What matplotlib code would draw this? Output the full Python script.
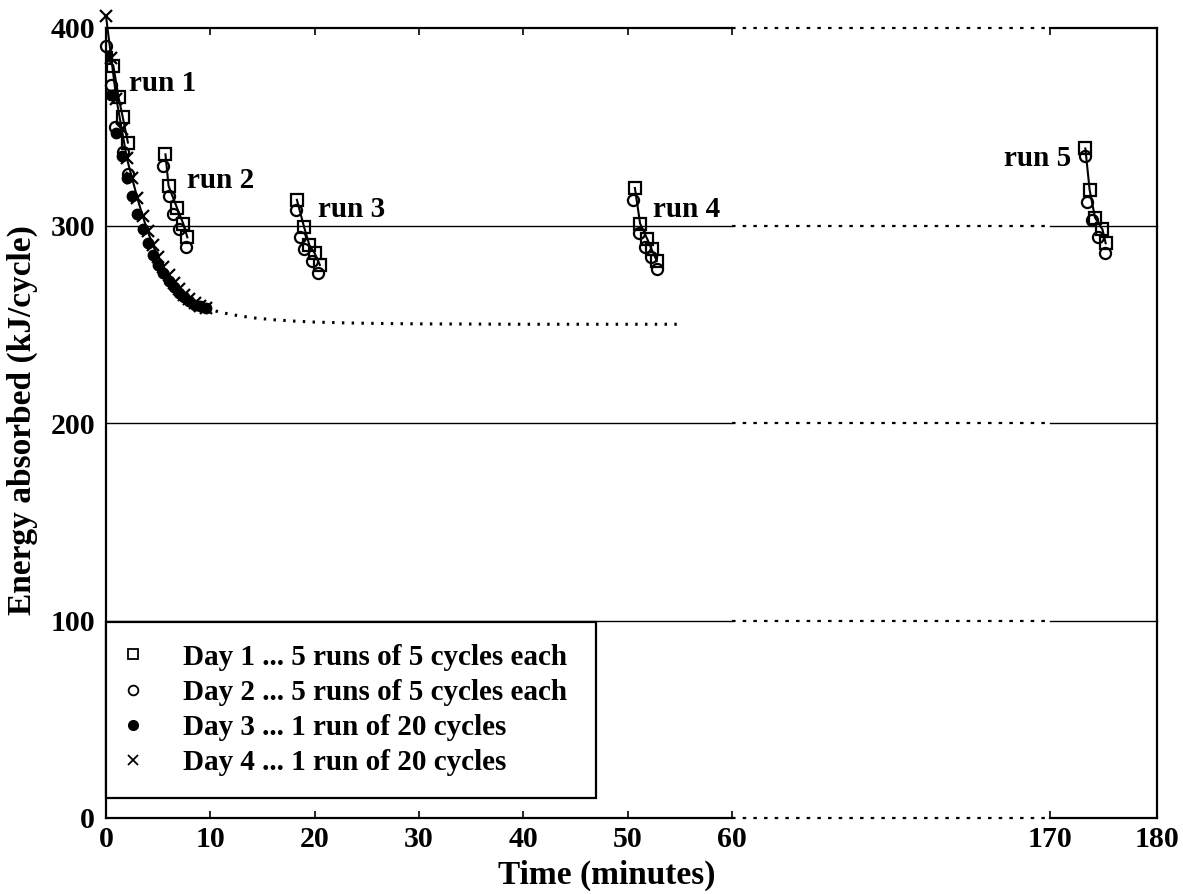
import numpy as np
import matplotlib
matplotlib.use("Agg")
import matplotlib.pyplot as plt
from matplotlib.lines import Line2D

plt.rcParams['font.family'] = ['Liberation Serif', 'DejaVu Serif']
plt.rcParams['font.weight'] = 'bold'

# ---- data ----
day1_runs_t = [
    [0.0, 0.7, 1.2, 1.6, 2.1],
    [5.7, 6.0, 6.8, 7.4, 7.8],
    [18.3, 19.0, 19.5, 20.0, 20.5],
    [50.7, 51.2, 51.9, 52.3, 52.8],
    [173.3, 173.7, 174.2, 174.9, 175.2],
]
day1_runs_E = [
    [385, 381, 365, 355, 342],
    [336, 320, 309, 301, 294],
    [313, 299, 290, 286, 280],
    [319, 301, 293, 288, 282],
    [339, 318, 304, 298, 291],
]
day2_runs_t = [
    [0.0, 0.5, 0.9, 1.6, 2.1],
    [5.5, 6.0, 6.4, 7.0, 7.7],
    [18.2, 18.6, 19.0, 19.7, 20.3],
    [50.5, 51.1, 51.7, 52.2, 52.8],
    [173.3, 173.5, 173.9, 174.5, 175.1],
]
day2_runs_E = [
    [391, 371, 350, 337, 326],
    [330, 315, 306, 298, 289],
    [308, 294, 288, 282, 276],
    [313, 296, 289, 284, 278],
    [335, 312, 303, 294, 286],
]
day3_t = [0.0, 0.5, 1.0, 1.5, 2.0, 2.5, 3.0, 3.5, 4.0, 4.5,
          5.0, 5.5, 6.0, 6.5, 7.0, 7.5, 8.0, 8.5, 9.0, 9.6]
day3_E = [386, 366, 347, 335, 324, 315, 306, 298, 291, 285,
          280, 276, 272, 269, 266, 264, 262, 260, 259, 258]
day4_t = [0.0, 0.5, 1.0, 1.5, 2.0, 2.5, 3.0, 3.5, 4.0, 4.5,
          5.0, 5.5, 6.0, 6.5, 7.0, 7.5, 8.0, 8.5, 9.0, 9.6]
day4_E = [406, 385, 364, 349, 334, 324, 314, 305, 297, 290,
          284, 279, 275, 271, 268, 265, 263, 261, 259, 258]
fit_t = [9.6, 11, 12.5, 14, 16, 18, 20, 23, 26, 30, 35, 40, 45, 50, 55]
fit_E = [258, 256, 254.5, 253.3, 252.3, 251.6, 251.1, 250.7, 250.4, 250.2,
         250.1, 250.0, 250.0, 250.0, 250.0]

labels = ["Day 1 ... 5 runs of 5 cycles each",
          "Day 2 ... 5 runs of 5 cycles each",
          "Day 3 ... 1 run of 20 cycles",
          "Day 4 ... 1 run of 20 cycles"]
run_names = ["run 1", "run 2", "run 3", "run 4", "run 5"]
xticks = [0, 10, 20, 30, 40, 50, 60, 170, 180]
yticks = [0, 100, 200, 300, 400]

# ---- broken axis scale ----
GAP = 30.5
RSC = 1.025

def fwd(x):
    x = np.asarray(x, dtype=float)
    return np.where(x <= 60, x,
                    np.where(x < 170, 60 + (x - 60) * GAP / 110,
                             60 + GAP + (x - 170) * RSC))

def inv(y):
    y = np.asarray(y, dtype=float)
    return np.where(y <= 60, y,
                    np.where(y < 60 + GAP, 60 + (y - 60) * 110 / GAP,
                             170 + (y - 60 - GAP) / RSC))

fig = plt.figure(figsize=(11.83, 8.94), dpi=100)
ax = fig.add_axes([106 / 1183, 1 - 818 / 894, 1051 / 1183, 790 / 894])
ax.set_xscale('function', functions=(fwd, inv))
ax.set_xlim(0, 180)
ax.set_ylim(0, 400)

# frame: draw top / bottom manually (solid, dotted in the gap)
ax.spines['top'].set_visible(False)
ax.spines['bottom'].set_visible(False)
for s in ['left', 'right']:
    ax.spines[s].set_linewidth(1.6)

for yv in yticks:
    lw = 1.6 if yv in (0, 400) else 1.0
    ax.plot([0, 60], [yv, yv], color='black', lw=lw, zorder=1, clip_on=False)
    ax.plot([170, 180], [yv, yv], color='black', lw=lw, zorder=1, clip_on=False)
    ax.plot([60, 170], [yv, yv], color='black', lw=1.6,
            linestyle=(0, (1.6, 3.2)), zorder=1, clip_on=False)

# fit curve (dotted)
ax.plot(fit_t, fit_E, color='black', lw=2.2, linestyle=(0, (0.8, 2.4)), zorder=2)

# run 1 continuous curve (days 3 and 4)
ax.plot(day4_t, day4_E, color='black', lw=1.5, zorder=3, clip_on=False)
ax.plot(day3_t, day3_E, linestyle='none', marker='o', ms=7.5, mfc='black',
        mec='black', zorder=4)
ax.plot(day4_t, day4_E, linestyle='none', marker='x', ms=8, mew=1.6,
        color='black', zorder=5, clip_on=False)

# runs of days 1 and 2
for t1, e1, t2, e2 in zip(day1_runs_t, day1_runs_E, day2_runs_t, day2_runs_E):
    ax.plot(t1, e1, color='black', lw=1.5, zorder=3)
    ax.plot(t1, e1, linestyle='none', marker='s', ms=8, mfc='none',
            mec='black', mew=1.6, zorder=6)
    ax.plot(t2, e2, linestyle='none', marker='o', ms=8, mfc='none',
            mec='black', mew=1.6, zorder=6, clip_on=False)

# run labels
tkw = dict(fontsize=21, fontweight='bold', va='center')
ax.text(2.2, 372, run_names[0], ha='left', **tkw)
ax.text(7.8, 323, run_names[1], ha='left', **tkw)
ax.text(20.3, 308, run_names[2], ha='left', **tkw)
ax.text(52.4, 308, run_names[3], ha='left', **tkw)
ax.text(172.0, 334, run_names[4], ha='right', **tkw)

# ticks
ax.set_xticks(xticks)
ax.set_xticklabels([str(v) for v in xticks])
ax.set_yticks(yticks)
ax.set_yticklabels([str(v) for v in yticks])
ax.tick_params(axis='x', direction='in', top=True, bottom=True, length=5,
               width=1.2, labelsize=21.5, pad=6)
ax.tick_params(axis='y', length=0, labelsize=21.5, pad=8)
for lab in ax.get_xticklabels() + ax.get_yticklabels():
    lab.set_fontweight('bold')

ax.set_xlabel("Time (minutes)", fontsize=24, fontweight='bold')
ax.xaxis.set_label_coords(0.476, -0.073)
ax.xaxis.label.set_va('center')
ax.set_ylabel("Energy absorbed (kJ/cycle)", fontsize=24, fontweight='bold')
ax.yaxis.set_label_coords(-0.08, 0.504)
ax.yaxis.label.set_va('center')

# legend
handles = [
    Line2D([], [], linestyle='none', marker='s', ms=7, mfc='none', mec='black', mew=1.3),
    Line2D([], [], linestyle='none', marker='o', ms=7, mfc='none', mec='black', mew=1.3),
    Line2D([], [], linestyle='none', marker='o', ms=7, mfc='black', mec='black'),
    Line2D([], [], linestyle='none', marker='x', ms=7, color='black', mew=1.3),
]
leg = ax.legend(handles, labels, loc='lower left',
                bbox_to_anchor=(0.0, 0.0253, 0.466, 0.2), mode='expand',
                prop={'size': 21, 'weight': 'bold'}, frameon=True,
                fancybox=False, edgecolor='black', framealpha=1,
                borderpad=0.75, labelspacing=0.28, handlelength=0.35,
                handletextpad=1.54, borderaxespad=0)
leg.get_frame().set_linewidth(1.6)
leg.set_zorder(10)

fig.savefig("out.png", dpi=100, facecolor='white')
